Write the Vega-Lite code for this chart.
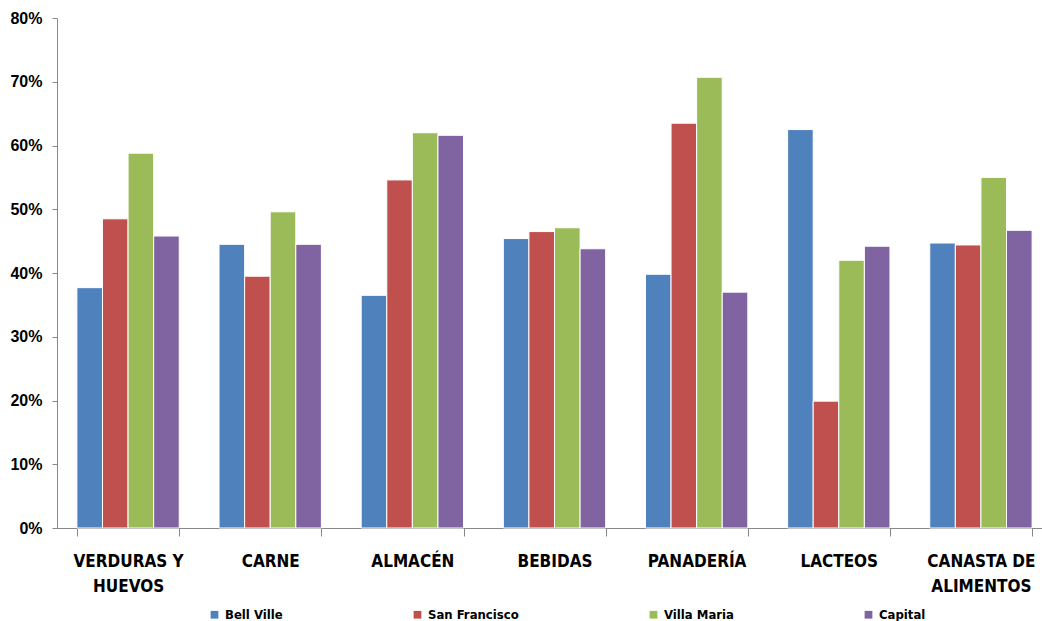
{
  "$schema": "https://vega.github.io/schema/vega-lite/v6.json",
  "width": 985,
  "height": 510,
  "autosize": {"type": "none"},
  "padding": {"left": 57, "top": 18, "right": 0, "bottom": 93},
  "background": "white",
  "config": {"view": {"stroke": null}},
  "data": {
    "values": [
      {"cat": "VERDURAS Y HUEVOS", "serie": "Bell Ville", "v": 0.377},
      {"cat": "VERDURAS Y HUEVOS", "serie": "San Francisco", "v": 0.485},
      {"cat": "VERDURAS Y HUEVOS", "serie": "Villa Maria", "v": 0.588},
      {"cat": "VERDURAS Y HUEVOS", "serie": "Capital", "v": 0.458},
      {"cat": "CARNE", "serie": "Bell Ville", "v": 0.445},
      {"cat": "CARNE", "serie": "San Francisco", "v": 0.395},
      {"cat": "CARNE", "serie": "Villa Maria", "v": 0.496},
      {"cat": "CARNE", "serie": "Capital", "v": 0.445},
      {"cat": "ALMACÉN", "serie": "Bell Ville", "v": 0.365},
      {"cat": "ALMACÉN", "serie": "San Francisco", "v": 0.546},
      {"cat": "ALMACÉN", "serie": "Villa Maria", "v": 0.620},
      {"cat": "ALMACÉN", "serie": "Capital", "v": 0.616},
      {"cat": "BEBIDAS", "serie": "Bell Ville", "v": 0.454},
      {"cat": "BEBIDAS", "serie": "San Francisco", "v": 0.465},
      {"cat": "BEBIDAS", "serie": "Villa Maria", "v": 0.471},
      {"cat": "BEBIDAS", "serie": "Capital", "v": 0.438},
      {"cat": "PANADERÍA", "serie": "Bell Ville", "v": 0.398},
      {"cat": "PANADERÍA", "serie": "San Francisco", "v": 0.635},
      {"cat": "PANADERÍA", "serie": "Villa Maria", "v": 0.707},
      {"cat": "PANADERÍA", "serie": "Capital", "v": 0.370},
      {"cat": "LACTEOS", "serie": "Bell Ville", "v": 0.625},
      {"cat": "LACTEOS", "serie": "San Francisco", "v": 0.199},
      {"cat": "LACTEOS", "serie": "Villa Maria", "v": 0.420},
      {"cat": "LACTEOS", "serie": "Capital", "v": 0.442},
      {"cat": "CANASTA DE ALIMENTOS", "serie": "Bell Ville", "v": 0.447},
      {"cat": "CANASTA DE ALIMENTOS", "serie": "San Francisco", "v": 0.444},
      {"cat": "CANASTA DE ALIMENTOS", "serie": "Villa Maria", "v": 0.550},
      {"cat": "CANASTA DE ALIMENTOS", "serie": "Capital", "v": 0.467}
    ]
  },
  "mark": {"type": "bar", "stroke": "white", "strokeWidth": 1},
  "encoding": {
    "x": {
      "field": "cat",
      "type": "nominal",
      "sort": null,
      "title": null,
      "scale": {"paddingInner": 0.28, "paddingOuter": 0.14, "range": [0, 995]},
      "axis": {
        "labelAngle": 0,
        "labelFont": "'DejaVu Sans Condensed', 'Liberation Sans', sans-serif",
        "labelFontWeight": "bold",
        "labelFontSize": 17,
        "labelColor": "#000000",
        "labelPadding": 17,
        "labelLineHeight": 25,
        "labelBaseline": "top",
        "tickBand": "extent",
        "tickColor": "#888888",
        "tickSize": 8,
        "domainColor": "#888888",
        "labelExpr": "datum.value == 'VERDURAS Y HUEVOS' ? ['VERDURAS Y', 'HUEVOS'] : datum.value == 'CANASTA DE ALIMENTOS' ? ['CANASTA DE', 'ALIMENTOS'] : datum.value"
      }
    },
    "xOffset": {"field": "serie", "type": "nominal", "sort": ["Bell Ville", "San Francisco", "Villa Maria", "Capital"], "scale": {"paddingInner": 0}},
    "y": {
      "field": "v",
      "type": "quantitative",
      "title": null,
      "scale": {"domain": [0, 0.8], "nice": false},
      "axis": {
        "format": ".0%",
        "values": [0, 0.1, 0.2, 0.3, 0.4, 0.5, 0.6, 0.7, 0.8],
        "grid": false,
        "labelFont": "Liberation Sans",
        "labelFontWeight": "bold",
        "labelFontSize": 16,
        "labelColor": "#000000",
        "labelPadding": 10,
        "tickColor": "#888888",
        "tickSize": 5,
        "domainColor": "#888888"
      }
    },
    "color": {
      "field": "serie",
      "type": "nominal",
      "sort": ["Bell Ville", "San Francisco", "Villa Maria", "Capital"],
      "scale": {"domain": ["Bell Ville", "San Francisco", "Villa Maria", "Capital"], "range": ["#4F81BD", "#C0504D", "#9BBB59", "#8064A2"]},
      "legend": {
        "title": null,
        "orient": "none",
        "direction": "horizontal",
        "legendX": 151,
        "legendY": 590,
        "symbolType": "square",
        "symbolSize": 60,
        "symbolStrokeWidth": 0,
        "labelFont": "'DejaVu Sans Condensed', 'Liberation Sans', sans-serif",
        "labelFontWeight": "bold",
        "labelFontSize": 13,
        "labelColor": "#000000",
        "labelOffset": 4,
        "columnPadding": 128
      }
    }
  }
}
